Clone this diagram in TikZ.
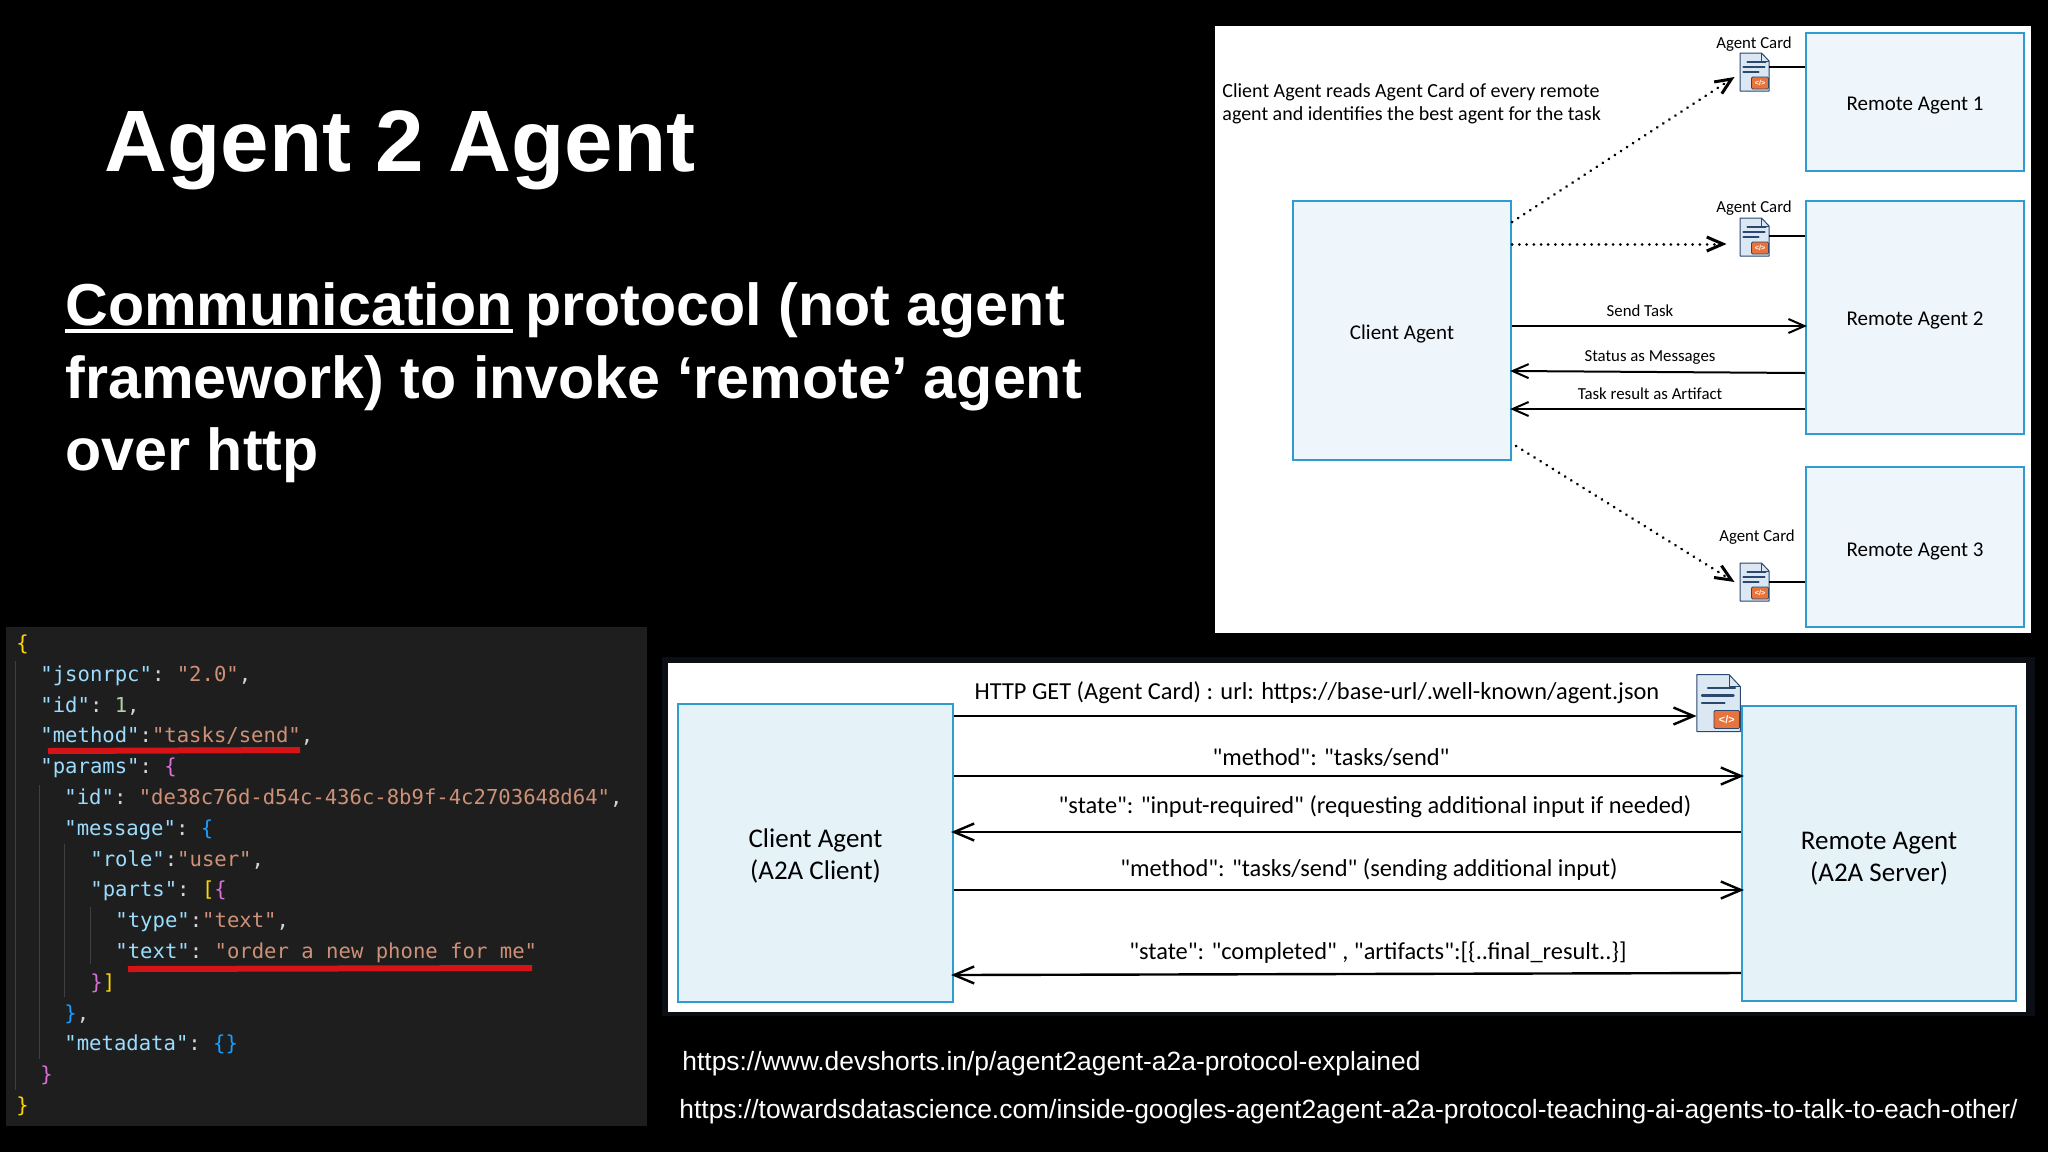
\documentclass[tikz,border=0pt]{standalone}
\usepackage{fontspec}
\usepackage{xcolor}
\usepackage{tikz}
\usetikzlibrary{positioning,arrows.meta,calc}
\setmainfont{Liberation Sans}
\setmonofont{DejaVu Sans Mono}
\newfontfamily\handfont{Carlito}
\definecolor{frameblue}{RGB}{46,156,208}
\definecolor{paleblue}{RGB}{238,245,251}
\definecolor{iceblue}{RGB}{229,242,248}
\definecolor{docblue}{RGB}{219,231,243}
\definecolor{docnavy}{RGB}{43,72,110}
\definecolor{tagorange}{RGB}{232,116,59}
\definecolor{panelnavy}{RGB}{11,14,20}
\definecolor{codebg}{RGB}{30,30,30}
\definecolor{guidegrey}{RGB}{64,64,64}
\definecolor{jkey}{RGB}{156,220,254}
\definecolor{jstr}{RGB}{206,145,120}
\definecolor{jnum}{RGB}{181,206,168}
\definecolor{jpunc}{RGB}{212,212,212}
\definecolor{jgold}{RGB}{255,215,0}
\definecolor{jpink}{RGB}{218,112,214}
\definecolor{jblue}{RGB}{23,159,255}
\definecolor{redline}{RGB}{214,20,24}
\newcommand{\jk}[1]{\textcolor{jkey}{#1}}
\newcommand{\js}[1]{\textcolor{jstr}{#1}}
\tikzset{
  titletxt/.style={text=white, anchor=base west, inner sep=0pt, font=\bfseries\fontsize{43.6}{50}\selectfont},
  leadtxt/.style ={text=white, anchor=base west, inner sep=0pt, font=\bfseries\fontsize{29.6}{34}\selectfont},
  urltxt/.style  ={text=white, anchor=base west, inner sep=0pt, font=\fontsize{13.2}{16}\selectfont},
  topbox/.style  ={draw=frameblue, fill=paleblue, line width=1.1pt},
  botbox/.style  ={draw=frameblue, fill=iceblue, line width=1.1pt},
  toplbl/.style  ={inner sep=0pt, font=\handfont\fontsize{10.5}{13}\selectfont},
  botlbl/.style  ={inner sep=0pt, align=center, font=\handfont\fontsize{13.5}{16}\selectfont},
  toptxt/.style  ={inner sep=0pt, font=\handfont\fontsize{8.4}{10}\selectfont},
  nottxt/.style  ={inner sep=0pt, anchor=base west, font=\handfont\fontsize{10}{12}\selectfont},
  bottxt/.style  ={inner sep=0pt, font=\handfont\fontsize{12.2}{14}\selectfont},
  codeln/.style  ={inner sep=0pt, anchor=base west, text=jpunc, font=\ttfamily\fontsize{10.3}{12}\selectfont},
  guide/.style   ={draw=guidegrey, line width=.5pt},
  redul/.style   ={draw=redline, line width=3pt},
  ar/.style      ={-{Straight Barb[length=8pt,width=7pt]}, draw=black, line width=1pt, shorten >=-1pt},
  bar/.style     ={-{Straight Barb[length=10pt,width=8.5pt]}, draw=black, line width=1.2pt, shorten >=-1.5pt},
  dotar/.style   ={-{Straight Barb[length=8pt,width=7pt]}, draw=black, line width=1.5pt,
                   line cap=round, dash pattern=on .01pt off 3.6pt},
  stub/.style    ={draw=black, line width=1pt},
  cardpic/.pic={
    \filldraw[draw=docnavy, fill=docblue, line width=.5pt, line join=round]
      (-14.5,-19) -- (7,-19) -- (14.5,-11) -- (14.5,19) -- (-14.5,19) -- cycle;
    \draw[docnavy, line width=.4pt] (7,-19) -- (7,-11) -- (14.5,-11);
    \draw[docnavy, line width=1.2pt, line cap=round] (-7,-10) -- (11,-10);
    \draw[docnavy, line width=1.2pt, line cap=round] (-11,-5) -- (10,-5);
    \draw[docnavy, line width=1.2pt, line cap=round] (-11,0) -- (4,0);
    \draw[docnavy, line width=.4pt] (14.5,7) arc (-90:90:-3 and 3);
    \filldraw[draw=docnavy, fill=tagorange, line width=.4pt, rounded corners=.6pt] (-3,5) rectangle (14,17);
    \node[inner sep=0pt, text=white, transform shape, font=\bfseries\fontsize{3.6}{4}\selectfont] (-tag) at (5.5,11) {</>};
    \node[coordinate] (-box) at (0,0) {};
  },
}
\begin{document}
\begin{tikzpicture}[x=.5pt,y=-.5pt]
\useasboundingbox (0,0) rectangle (2048,1152);
\fill[black] (0,0) rectangle (2048,1152);
\node[titletxt] (title) at (104,171) {Agent 2 Agent};
\node[leadtxt] (commword) at (65,325) {Communication};
\node[leadtxt] (lead1) at (525,325) {protocol (not agent};
\node[leadtxt] (lead2) at (65,398) {framework) to invoke ‘remote’ agent};
\node[leadtxt] (lead3) at (65,470) {over http};
\draw[draw=white, line width=2pt] ([yshift=-3pt]commword.base west) -- ([yshift=-3pt]commword.base east);
\fill[white] (1215,26) rectangle (2031,633);
\node[topbox, minimum width=109pt, minimum height=69pt] (remote1) at (1915,102) {};
\node[topbox, minimum width=109pt, minimum height=116.5pt] (remote2) at (1915,317.5) {};
\node[topbox, minimum width=109pt, minimum height=80pt] (remote3) at (1915,547) {};
\node[topbox, minimum width=109pt, minimum height=129.5pt] (client) at (1402,330.5) {};
\node[toplbl] (remote1lbl) at (1915,106) {Remote Agent 1};
\node[toplbl] (remote2lbl) at (1915,320.5) {Remote Agent 2};
\node[toplbl] (remote3lbl) at (1915,551) {Remote Agent 3};
\node[toplbl] (clientlbl) at (1402,334.5) {Client Agent};
\node[nottxt] (note1) at (1222,97) {Client Agent reads Agent Card of every remote};
\node[nottxt] (note2) at (1222,120) {agent and identifies the best agent for the task};
\pic (card1) at (1754.5,72) {cardpic};
\pic (card2) at (1754.5,237) {cardpic};
\pic (card3) at (1754.5,582) {cardpic};
\node[toptxt] (cardlbl1) at (1754,44) {Agent Card};
\node[toptxt] (cardlbl2) at (1754,208) {Agent Card};
\node[toptxt] (cardlbl3) at (1757,537) {Agent Card};
\draw[stub] ([xshift=7.25pt]card1-box |- 0,67) -- (remote1.west |- 0,67);
\draw[stub] ([xshift=7.25pt]card2-box |- 0,236) -- (remote2.west |- 0,236);
\draw[stub] ([xshift=7.25pt]card3-box |- 0,582) -- (remote3.west |- 0,582);
\draw[dotar] (client.east |- 0,222) -- ([shift={(-10pt,-2.5pt)}]card1-box);
\draw[dotar] (client.east |- 0,244) -- ([xshift=-14pt]card2-box |- 0,244);
\draw[dotar] ([xshift=2pt]client.east |- 0,446) -- ([xshift=-10pt]card3-box);
\draw[ar] (client.east |- 0,326) -- (remote2.west |- 0,326);
\draw[ar] (remote2.west |- 0,373) -- (client.east |- 0,371);
\draw[ar] (remote2.west |- 0,409) -- (client.east |- 0,409);
\node[toptxt] (sendlbl) at (1640,311) {Send Task};
\node[toptxt] (statlbl) at (1650,357) {Status as Messages};
\node[toptxt] (reslbl) at (1650,394) {Task result as Artifact};
\fill[panelnavy] (662,657) rectangle (2035,1016);
\fill[white] (668,663) rectangle (2026,1012);
\node[botbox, minimum width=137.5pt, minimum height=149pt] (a2aclient) at (815.5,853) {};
\node[botbox, minimum width=137pt, minimum height=147.5pt] (a2aserver) at (1879,853.5) {};
\node[botlbl] (a2aclientlbl) at (815.5,856) {Client Agent\\(A2A Client)};
\node[botlbl] (a2aserverlbl) at (1879,858.5) {Remote Agent\\(A2A Server)};
\pic[scale=1.5] (card4) at (1718.5,703) {cardpic};
\draw[bar] (a2aclient.east |- 0,716) -- ([xshift=-12.5pt]card4-box |- 0,716);
\draw[bar] (a2aclient.east |- 0,776) -- (a2aserver.west |- 0,776);
\draw[bar] (a2aserver.west |- 0,832) -- (a2aclient.east |- 0,832);
\draw[bar] (a2aclient.east |- 0,890) -- (a2aserver.west |- 0,890);
\draw[bar] (a2aserver.west |- 0,973) -- (a2aclient.east |- 0,975);
\node[bottxt] (getlbl) at (1317,693) {HTTP GET (Agent Card) : url: https://base-url/.well-known/agent.json};
\node[bottxt] (sendlbl1) at (1331,758) {"method": "tasks/send"};
\node[bottxt] (inputlbl) at (1375,807) {"state": "input-required" (requesting additional input if needed)};
\node[bottxt] (sendlbl2) at (1369,870) {"method": "tasks/send" (sending additional input)};
\node[bottxt] (donelbl) at (1378,953) {"state": "completed" , "artifacts":[\{..final\_result..\}]};
\node[urltxt] (url1) at (682,1070) {https://www.devshorts.in/p/agent2agent-a2a-protocol-explained};
\node[urltxt] (url2) at (679,1118) {https://towardsdatascience.com/inside-googles-agent2agent-a2a-protocol-teaching-ai-agents-to-talk-to-each-other/};
\fill[codebg] (6,627) rectangle (647,1126);
\draw[guide] (15,661) -- (15,1090);
\draw[guide] (39,785) -- (39,1059);
\draw[guide] (64,844) -- (64,997);
\draw[guide] (90,907) -- (90,964);
\node[codeln] (ln1) at (16,650) {\textcolor{jgold}{\{}};
\node[codeln] (ln2) at (40,681) {\jk{"jsonrpc"}: \js{"2.0"},};
\node[codeln] (ln3) at (40,712) {\jk{"id"}: \textcolor{jnum}{1},};
\node[codeln] (ln4) at (40,742) {\jk{"method"}:\js{"tasks/send"},};
\node[codeln] (ln5) at (40,773) {\jk{"params"}: \textcolor{jpink}{\{}};
\node[codeln] (ln6) at (64,804) {\jk{"id"}: \js{"de38c76d-d54c-436c-8b9f-4c2703648d64"},};
\node[codeln] (ln7) at (64,835) {\jk{"message"}: \textcolor{jblue}{\{}};
\node[codeln] (ln8) at (90,866) {\jk{"role"}:\js{"user"},};
\node[codeln] (ln9) at (90,896) {\jk{"parts"}: \textcolor{jgold}{[}\textcolor{jpink}{\{}};
\node[codeln] (ln10) at (115,927) {\jk{"type"}:\js{"text"},};
\node[codeln] (ln11) at (115,958) {\jk{"text"}: \js{"order a new phone for me"}};
\node[codeln] (ln12) at (90,989) {\textcolor{jpink}{\}}\textcolor{jgold}{]}};
\node[codeln] (ln13) at (64,1020) {\textcolor{jblue}{\}},};
\node[codeln] (ln14) at (64,1050) {\jk{"metadata"}: \textcolor{jblue}{\{\}}};
\node[codeln] (ln15) at (40,1081) {\textcolor{jpink}{\}}};
\node[codeln] (ln16) at (16,1112) {\textcolor{jgold}{\}}};
\draw[redul] (48,751) -- (300,750);
\draw[redul] (128,969) -- (532,968);
\end{tikzpicture}
\end{document}
